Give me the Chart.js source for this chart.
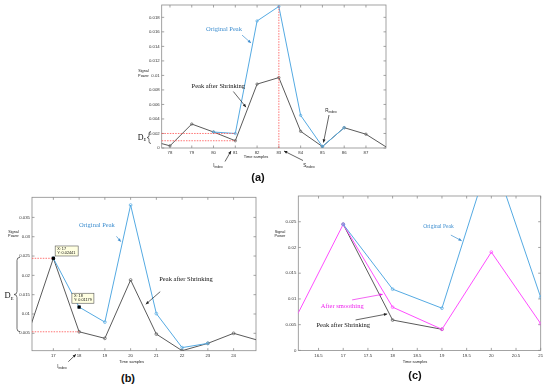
<!DOCTYPE html>
<html><head><meta charset="utf-8">
<script src="https://cdn.jsdelivr.net/npm/chart.js@4.4.1/dist/chart.umd.min.js"></script>
<style>
html,body{margin:0;padding:0;background:#fff;}
body{width:550px;height:388px;position:relative;overflow:hidden;}
.box{position:absolute;}
.box canvas{display:block;}
.plab{position:absolute;font:bold 11px "Liberation Sans",Arial,sans-serif;color:#111;transform:translate(-50%,-50%);white-space:nowrap;}
</style></head>
<body>
<div class="box" style="left:120px;top:0px;"><canvas id="ca" width="280" height="175"></canvas></div>
<div class="box" style="left:0px;top:185px;"><canvas id="cb" width="270" height="185"></canvas></div>
<div class="box" style="left:270px;top:185px;"><canvas id="cc" width="280" height="185"></canvas></div>
<div class="plab" style="left:258px;top:177px;">(a)</div>
<div class="plab" style="left:128px;top:378px;">(b)</div>
<div class="plab" style="left:415px;top:375px;">(c)</div>
<script>
// ---------- Panel (a) data ----------
const aSamples     = [77, 78, 79, 80, 81, 82, 83, 84, 85, 86, 87, 88];
const aShrunk      = [0.0011, 0.0003, 0.0033, 0.0022, 0.0010, 0.0088, 0.0097, 0.0023, 0.0002, 0.0028, 0.0019, 0.0000];
const aOrigSamples = [80, 81, 82, 83, 84, 85, 86];
const aOriginal    = [0.0022, 0.0020, 0.0175, 0.0195, 0.0045, 0.0002, 0.0028];
const aXTicks = [78, 79, 80, 81, 82, 83, 84, 85, 86, 87];
const aYTicks = [0, 0.002, 0.004, 0.006, 0.008, 0.01, 0.012, 0.014, 0.016, 0.018];

// ---------- Panel (b) data ----------
const bSamples     = [16, 17, 18, 19, 20, 21, 22, 23, 24, 25];
const bShrunk      = [0.0046, 0.02441, 0.0054, 0.0037, 0.0188, 0.0048, 0.0005, 0.0024, 0.0050, 0.0031];
const bOrigSamples = [17, 18, 19, 20, 21, 22, 23];
const bOriginal    = [0.02441, 0.01179, 0.0079, 0.0382, 0.0101, 0.0013, 0.0024];
const bXTicks = [17, 18, 19, 20, 21, 22, 23, 24];
const bYTicks = [0.005, 0.01, 0.015, 0.02, 0.025, 0.03, 0.035];

// ---------- Panel (c) data ----------
const cSamples       = [16, 17, 18, 19, 20, 21];
const cSmoothed      = [0.0056, 0.0245, 0.0084, 0.0041, 0.0191, 0.0052];
const cOrigSamples   = [17, 18, 19, 20, 21];
const cOriginal      = [0.0245, 0.0119, 0.0082, 0.0385, 0.0103];
const cShrunkSamples = [17, 18, 19];
const cShrunk        = [0.0245, 0.0059, 0.0041];
const cXTicks = [16.5, 17, 17.5, 18, 18.5, 19, 19.5, 20, 20.5, 21];
const cYTicks = [0, 0.005, 0.01, 0.015, 0.02, 0.025];

// ---------- styles ----------
const BLUE = '#55aae2', GREY = '#5a5a5a', PINK = '#ff4dff', RED = '#ff5050';
const SERIF = '"Liberation Serif","Times New Roman",serif';
const SANS = '"Liberation Sans",Arial,sans-serif';

function pts(xs, ys){ return xs.map((v,i)=>({x:v, y:ys[i]})); }
function fmt(v){ return v===0 ? '0' : String(+v.toFixed(5)); }

// annotation lists (data coords unless page:true)
const ANN = {
  ca: { off:[120,0], items:[
    {k:'hl', y:aOriginal[1], x2:81},
    {k:'hl', y:aShrunk[4], x2:81},
    {k:'vl', x:83, y1:0, y2:aOriginal[3]},
    {k:'text', x:80.48, y:0.0164, s:'Original Peak', c:'#3f8fd0', f:'6.5px '+SERIF},
    {k:'arrow', x1:81.31, y1:0.01555, x2:81.72, y2:0.01447, c:'#3f8fd0'},
    {k:'text', x:80.22, y:0.00856, s:'Peak after Shrinking', c:'#111', f:'6.5px '+SERIF},
    {k:'arrow', x1:80.91, y1:0.00778, x2:81.49, y2:0.00563, c:'#222'},
    {k:'brace', page:true, x:149, y1:131.5, y2:143.5, w:2},
    {k:'sub', page:true, x:142, y:137.5, s:'D', sub:'E', f:'8px '+SERIF, fs:'4.5px '+SERIF, c:'#111'},
    {k:'text', page:true, x:143.5, y:71, s:'Signal', c:'#222', f:'3.8px '+SANS},
    {k:'text', page:true, x:143.5, y:75.5, s:'Power', c:'#222', f:'3.8px '+SANS},
    {k:'text', page:true, x:256, y:157, s:'Time samples', c:'#222', f:'4px '+SANS},
    {k:'sub', page:true, x:218, y:166, s:'I', sub:'index', f:'4.5px '+SANS, fs:'3.5px '+SANS, c:'#222'},
    {k:'arrow', page:true, x1:225, y1:161.5, x2:231, y2:151, c:'#222'},
    {k:'sub', page:true, x:309, y:165.5, s:'S', sub:'index', f:'4.5px '+SANS, fs:'3.5px '+SANS, c:'#222'},
    {k:'arrow', page:true, x1:303, y1:160.5, x2:284, y2:151, c:'#222'},
    {k:'sub', page:true, x:331, y:110.5, s:'R', sub:'index', f:'4.5px '+SANS, fs:'3.5px '+SANS, c:'#222'},
    {k:'arrow', page:true, x1:329, y1:115, x2:323.5, y2:142.5, c:'#222'}
  ]},
  cb: { off:[0,185], items:[
    {k:'hl', y:bShrunk[1], x2:17},
    {k:'hl', y:bShrunk[2], x2:18},
    {k:'sq', x:17, y:bOriginal[0]},
    {k:'sq', x:18, y:bOriginal[1]},
    {k:'tip', x:17.07, y:0.0276, w:23, h:10, lines:['X: 17','Y: 0.02441']},
    {k:'tip', x:17.72, y:0.01537, w:22, h:10, lines:['X: 18','Y: 0.01179']},
    {k:'text', x:18.69, y:0.03304, s:'Original Peak', c:'#3f8fd0', f:'6.5px '+SERIF},
    {k:'arrow', x1:19.45, y1:0.0301, x2:19.62, y2:0.02872, c:'#3f8fd0'},
    {k:'text', x:22.15, y:0.01899, s:'Peak after Shrinking', c:'#111', f:'6.5px '+SERIF},
    {k:'arrow', x1:21.15, y1:0.01578, x2:20.59, y2:0.01252, c:'#222'},
    {k:'brace', page:true, x:17, y1:257.3, y2:331.7, w:3},
    {k:'sub', page:true, x:9, y:296, s:'D', sub:'E', f:'8.5px '+SERIF, fs:'5px '+SERIF, c:'#111'},
    {k:'text', page:true, x:13.5, y:231.7, s:'Signal', c:'#222', f:'3.8px '+SANS},
    {k:'text', page:true, x:13.5, y:236.2, s:'Power', c:'#222', f:'3.8px '+SANS},
    {k:'text', page:true, x:131.7, y:361.5, s:'Time samples', c:'#222', f:'4px '+SANS},
    {k:'sub', page:true, x:62, y:366.7, s:'I', sub:'index', f:'4.5px '+SANS, fs:'3.5px '+SANS, c:'#222'},
    {k:'arrow', page:true, x1:68.3, y1:361.7, x2:76, y2:354.3, c:'#222'}
  ]},
  cc: { off:[270,185], items:[
    {k:'text', x:18.93, y:0.02407, s:'Original Peak', c:'#3f8fd0', f:'5.5px '+SERIF},
    {k:'arrow', x1:19.18, y1:0.02241, x2:19.40, y2:0.0213, c:'#3f8fd0'},
    {k:'text', x:16.98, y:0.0085, s:'After smoothing', c:'#ee22ee', f:'6.5px '+SERIF},
    {k:'arrow', x1:17.18, y1:0.00981, x2:17.80, y2:0.01091, c:'#ee22ee'},
    {k:'text', x:17.0, y:0.00494, s:'Peak after Shrinking', c:'#111', f:'6.5px '+SERIF},
    {k:'arrow', x1:17.25, y1:0.00591, x2:17.89, y2:0.00708, c:'#222'},
    {k:'text', page:true, x:280, y:231.7, s:'Signal', c:'#222', f:'3.8px '+SANS},
    {k:'text', page:true, x:280, y:236.2, s:'Power', c:'#222', f:'3.8px '+SANS},
    {k:'text', page:true, x:415, y:361.5, s:'Time samples', c:'#222', f:'4px '+SANS}
  ]}
};

const frameTicks = {
  id:'frameTicks',
  beforeDatasetsDraw(chart){
    const {ctx, chartArea:a, scales:{x,y}} = chart;
    ctx.save();
    ctx.strokeStyle = '#8c8c8c'; ctx.lineWidth = 0.8;
    ctx.strokeRect(a.left, a.top, a.right-a.left, a.bottom-a.top);
    const L = 2.5;
    ctx.beginPath();
    x.ticks.forEach(t=>{ const p = x.getPixelForValue(t.value);
      ctx.moveTo(p,a.bottom); ctx.lineTo(p,a.bottom-L); ctx.moveTo(p,a.top); ctx.lineTo(p,a.top+L); });
    y.ticks.forEach(t=>{ const p = y.getPixelForValue(t.value);
      ctx.moveTo(a.left,p); ctx.lineTo(a.left+L,p); ctx.moveTo(a.right,p); ctx.lineTo(a.right-L,p); });
    ctx.stroke();
    ctx.restore();
  }
};

function arrow(ctx, x1,y1,x2,y2,c){
  ctx.strokeStyle=c; ctx.fillStyle=c; ctx.lineWidth=0.7;
  ctx.beginPath(); ctx.moveTo(x1,y1); ctx.lineTo(x2,y2); ctx.stroke();
  const ang = Math.atan2(y2-y1,x2-x1), hl=3.2, hw=1.5;
  ctx.beginPath();
  ctx.moveTo(x2,y2);
  ctx.lineTo(x2-hl*Math.cos(ang)+hw*Math.sin(ang), y2-hl*Math.sin(ang)-hw*Math.cos(ang));
  ctx.lineTo(x2-hl*Math.cos(ang)-hw*Math.sin(ang), y2-hl*Math.sin(ang)+hw*Math.cos(ang));
  ctx.closePath(); ctx.fill();
}

const annot = {
  id:'annot',
  afterDraw(chart){
    const spec = ANN[chart.canvas.id]; if(!spec) return;
    const {ctx, chartArea:a, scales:{x,y}} = chart;
    const off = spec.off;
    const PX = (it,v)=> it.page ? v-off[0] : x.getPixelForValue(v);
    const PY = (it,v)=> it.page ? v-off[1] : y.getPixelForValue(v);
    ctx.save();
    spec.items.forEach(it=>{
      if(it.k==='hl'){
        ctx.save(); ctx.strokeStyle=RED; ctx.lineWidth=0.8; ctx.setLineDash([1.5,1.2]);
        const py=PY(it,it.y); ctx.beginPath(); ctx.moveTo(a.left,py); ctx.lineTo(PX(it,it.x2),py); ctx.stroke(); ctx.restore();
      } else if(it.k==='vl'){
        ctx.save(); ctx.strokeStyle=RED; ctx.lineWidth=0.8; ctx.setLineDash([1.5,1.2]);
        const px=PX(it,it.x); ctx.beginPath(); ctx.moveTo(px,PY(it,it.y1)); ctx.lineTo(px,a.top); ctx.stroke(); ctx.restore();
      } else if(it.k==='text'){
        ctx.font=it.f; ctx.fillStyle=it.c; ctx.textAlign=it.al||'center'; ctx.textBaseline='middle';
        ctx.fillText(it.s, PX(it,it.x), PY(it,it.y));
      } else if(it.k==='sub'){
        ctx.fillStyle=it.c; ctx.textBaseline='middle'; ctx.textAlign='left';
        ctx.font=it.f; const w1=ctx.measureText(it.s).width;
        ctx.font=it.fs; const w2=ctx.measureText(it.sub).width;
        const px=PX(it,it.x)-(w1+w2)/2, py=PY(it,it.y);
        ctx.font=it.f; ctx.fillText(it.s,px,py);
        ctx.font=it.fs; ctx.fillText(it.sub,px+w1,py+parseFloat(it.f)*0.3);
      } else if(it.k==='arrow'){
        arrow(ctx, PX(it,it.x1),PY(it,it.y1),PX(it,it.x2),PY(it,it.y2), it.c);
      } else if(it.k==='brace'){
        const bx=PX(it,it.x), y1=PY(it,it.y1), y2=PY(it,it.y2), w=it.w, ym=(y1+y2)/2;
        ctx.strokeStyle='#333'; ctx.lineWidth=0.7; ctx.beginPath();
        ctx.moveTo(bx+w,y1); ctx.quadraticCurveTo(bx,y1,bx,y1+w);
        ctx.lineTo(bx,ym-w); ctx.quadraticCurveTo(bx,ym,bx-w,ym);
        ctx.quadraticCurveTo(bx,ym,bx,ym+w);
        ctx.lineTo(bx,y2-w); ctx.quadraticCurveTo(bx,y2,bx+w,y2);
        ctx.stroke();
      } else if(it.k==='sq'){
        const px=PX(it,it.x), py=PY(it,it.y);
        ctx.fillStyle='#000'; ctx.fillRect(px-1.6,py-1.6,3.2,3.2);
      } else if(it.k==='tip'){
        const px=PX(it,it.x), py=PY(it,it.y);
        ctx.fillStyle='#ffffe1'; ctx.fillRect(px,py,it.w,it.h);
        ctx.strokeStyle='#555'; ctx.lineWidth=0.6; ctx.strokeRect(px,py,it.w,it.h);
        ctx.fillStyle='#111'; ctx.font='3.8px '+SANS; ctx.textAlign='left'; ctx.textBaseline='middle';
        it.lines.forEach((s,i)=>ctx.fillText(s, px+2, py+2.8+i*4.4));
      }
    });
    ctx.restore();
  }
};

function axis(min,max,ticks,fixed,isY,extra){
  return Object.assign({
    type:'linear', min, max,
    grid:{display:false, drawTicks:false},
    border:{display:false},
    ticks:{font:{family:SANS,size:4.3}, color:'#333', padding:isY?2:2.5, maxRotation:0, autoSkip:false,
           callback:(v)=>fmt(v)},
    afterBuildTicks:(s)=>{ s.ticks = ticks.map(v=>({value:v})); },
    afterFit:(s)=>{
      if(isY){ s.width=fixed; s.paddingTop=0; s.paddingBottom=0; }
      else { s.height=fixed; s.paddingLeft=0; s.paddingRight=0; }
    }
  }, extra||{});
}

function ds(data,color,opt){
  return Object.assign({data, borderColor:color, backgroundColor:'#fff', borderWidth:1,
    pointRadius:1.4, pointBorderWidth:0.7, pointBorderColor:color, pointBackgroundColor:'rgba(255,255,255,0)',
    tension:0, fill:false}, opt||{});
}

function make(id, datasets, xs, ys, pad){
  return new Chart(document.getElementById(id), {
    type:'line',
    data:{datasets},
    options:{
      responsive:false, animation:false, devicePixelRatio:1,
      parsing:false, normalized:true,
      layout:{padding:{left:0, top:pad.top, right:pad.right, bottom:0}},
      plugins:{legend:{display:false}, tooltip:{enabled:false}},
      scales:{x:xs, y:ys}
    },
    plugins:[frameTicks, annot]
  });
}

make('ca', [
  ds(pts(aOrigSamples,aOriginal), BLUE, {pointRadius:1.2}),
  ds(pts(aSamples,aShrunk), GREY, {pointRadius:1.2})
], axis(77.62, 87.92, aXTicks, 27, false), axis(0, 0.0197, aYTicks, 41.7, true), {top:5, right:14});

make('cb', [
  ds(pts(bOrigSamples,bOriginal), BLUE),
  ds(pts(bSamples,bShrunk), GREY)
], axis(16.17, 24.87, bXTicks, 19.3, false), axis(0.0005, 0.0402, bYTicks, 32, true), {top:12.3, right:14});

make('cc', [
  ds(pts(cOrigSamples,cOriginal), BLUE),
  ds(pts(cSamples,cSmoothed), PINK),
  ds(pts(cShrunkSamples,cShrunk), GREY)
], axis(16.09, 21.0, cXTicks, 19.6, false), axis(0, 0.030, cYTicks, 28.3, true), {top:11, right:9.3});
</script>
</body></html>
